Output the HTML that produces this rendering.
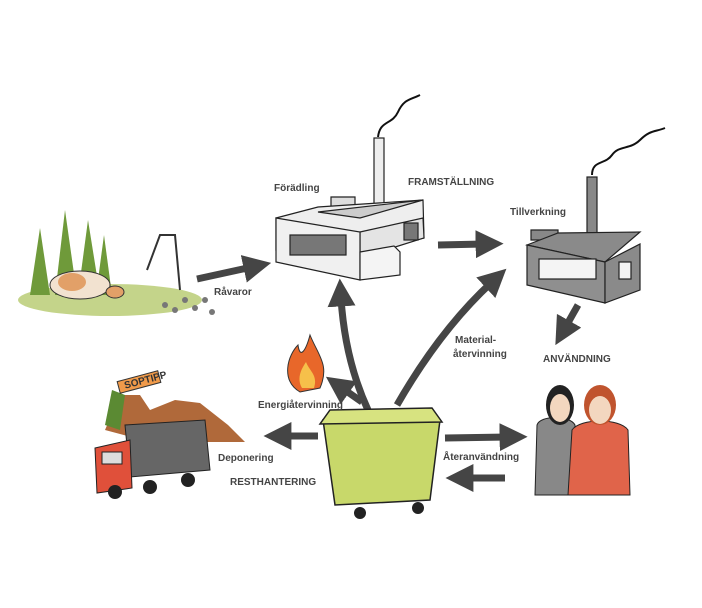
<!DOCTYPE html>
<html><head><meta charset="utf-8"><style>
body{margin:0;background:#fff}
svg{display:block}
text{font-family:"Liberation Sans",sans-serif;font-weight:bold;font-size:10px;fill:#444}
</style></head><body>
<svg width="702" height="608" viewBox="0 0 702 608" xmlns="http://www.w3.org/2000/svg">
<defs>
<marker id="a" markerWidth="4" markerHeight="4" refX="1.2" refY="2" orient="auto" markerUnits="strokeWidth">
<path d="M0,0 L4,2 L0,4 z" fill="#454545"/></marker>
</defs>
<g stroke="#454545" stroke-width="7" fill="none" marker-end="url(#a)">
<line x1="197" y1="279" x2="252" y2="267"/>
<line x1="438" y1="245" x2="484" y2="244"/>
<line x1="578" y1="305" x2="565" y2="328"/>
<path d="M368,410 Q345,360 341,298"/>
<path d="M397,405 Q440,330 492,282"/>
<line x1="362" y1="402" x2="342" y2="388"/>
<line x1="318" y1="436" x2="283" y2="436"/>
<line x1="445" y1="438" x2="508" y2="437"/>
<line x1="505" y1="478" x2="465" y2="478"/>
</g>
<!-- smoke -->
<path d="M378,137 C380,120 392,125 398,112 S410,100 420,95" stroke="#111" stroke-width="2" fill="none"/>
<path d="M592,175 C592,160 605,165 612,155 S630,150 640,140 S655,132 665,128" stroke="#111" stroke-width="2" fill="none"/>
<!-- factory 1 -->
<g stroke="#222" stroke-width="1.2">
<rect x="374" y="138" width="10" height="75" fill="#eee"/>
<path d="M331,197 h24 v12 h-24z" fill="#ddd"/>
<polygon points="276,218 318,207 423,200 424,238 360,252 276,250" fill="#eee"/>
<polygon points="360,232 423,218 424,238 360,258" fill="#e4e4e4"/>
<polygon points="276,218 360,232 360,280 276,262" fill="#f0f0f0"/>
<polygon points="318,212 423,200 360,218 318,212" fill="#ccc"/>
<rect x="290" y="235" width="56" height="20" fill="#777"/>
<polygon points="360,252 394,246 400,252 400,275 360,280" fill="#f4f4f4"/>
<rect x="404" y="223" width="14" height="17" fill="#777"/>
<!-- factory 2 -->
<rect x="587" y="177" width="10" height="60" fill="#888"/>
<path d="M531,230 h27 v10 h-27z" fill="#888"/>
<polygon points="527,245 558,233 640,232 605,262" fill="#8a8a8a"/>
<polygon points="527,245 605,262 605,303 527,285" fill="#8f8f8f"/>
<polygon points="605,262 640,244 640,290 605,303" fill="#8a8a8a"/>
<rect x="539" y="259" width="57" height="20" fill="#f4f4f4"/>
<rect x="619" y="262" width="12" height="17" fill="#f4f4f4"/>
</g>
<!-- left scene -->
<ellipse cx="110" cy="300" rx="92" ry="16" fill="#c4d48a"/>
<g fill="#6f9a3a">
<polygon points="30,295 40,228 50,295"/><polygon points="55,295 65,210 77,295"/>
<polygon points="78,295 88,220 100,295"/><polygon points="96,295 104,235 112,295"/>
</g>
<ellipse cx="80" cy="285" rx="30" ry="14" fill="#f2e2d0" stroke="#333"/>
<ellipse cx="72" cy="282" rx="14" ry="9" fill="#e2a068"/>
<ellipse cx="115" cy="292" rx="9" ry="6" fill="#e2a068" stroke="#333"/>
<path d="M147,270 L160,235 L175,235 L180,290" stroke="#333" stroke-width="2" fill="none"/>
<g fill="#777"><circle cx="165" cy="305" r="3"/><circle cx="175" cy="310" r="3"/><circle cx="185" cy="300" r="3"/><circle cx="195" cy="308" r="3"/><circle cx="205" cy="300" r="3"/><circle cx="212" cy="312" r="3"/></g>
<!-- fire -->
<path d="M300,392 C280,380 288,355 298,345 C300,360 306,350 310,335 C318,355 330,365 320,388z" fill="#e8672a" stroke="#333"/>
<path d="M302,388 C296,378 302,368 306,362 C310,372 318,375 314,388z" fill="#f6c04a"/>
<!-- landfill / truck -->
<polygon points="105,430 120,395 140,395 150,410 175,400 200,403 228,425 245,442 150,442" fill="#b0693a"/>
<path d="M105,425 L112,390 L125,395 L120,430z" fill="#5b8a33"/>
<rect x="118" y="376" width="42" height="12" fill="#f09a4a" stroke="#333" transform="rotate(-15 139 382)"/>
<text x="124" y="385" font-size="6" transform="rotate(-15 139 382)" style="fill:#333">SOPTIPP</text>
<polygon points="125,425 205,420 210,470 130,477" fill="#666" stroke="#222"/>
<polygon points="95,448 130,440 132,488 97,493" fill="#e0503a" stroke="#222"/>
<rect x="102" y="452" width="20" height="12" fill="#ddd" stroke="#222"/>
<circle cx="115" cy="492" r="7" fill="#222"/><circle cx="150" cy="487" r="7" fill="#222"/><circle cx="188" cy="480" r="7" fill="#222"/>
<!-- bin -->
<polygon points="323,420 440,420 430,500 335,505" fill="#c8d86a" stroke="#222" stroke-width="1.5"/>
<polygon points="330,410 432,408 442,422 320,424" fill="#d7e380" stroke="#222" stroke-width="1.5"/>
<circle cx="360" cy="513" r="6" fill="#222"/><circle cx="418" cy="508" r="6" fill="#222"/>
<!-- people -->
<path d="M535,495 L537,425 C540,415 570,415 575,425 L575,495z" fill="#888" stroke="#222"/>
<path d="M568,495 L572,430 C580,418 620,418 628,430 L630,495z" fill="#e0644a" stroke="#222"/>
<ellipse cx="560" cy="405" rx="14" ry="20" fill="#222"/><ellipse cx="560" cy="408" rx="10" ry="14" fill="#f3d7bf"/>
<ellipse cx="600" cy="405" rx="16" ry="20" fill="#c0542e"/><ellipse cx="600" cy="410" rx="11" ry="14" fill="#f3d7bf"/>
<!-- labels -->
<text x="274" y="191">Förädling</text>
<text x="408" y="185">FRAMSTÄLLNING</text>
<text x="510" y="215">Tillverkning</text>
<text x="214" y="295">Råvaror</text>
<text x="455" y="343">Material-</text>
<text x="453" y="357">återvinning</text>
<text x="543" y="362">ANVÄNDNING</text>
<text x="258" y="408">Energiåtervinning</text>
<text x="218" y="461">Deponering</text>
<text x="443" y="460">Återanvändning</text>
<text x="230" y="485">RESTHANTERING</text>
</svg>
</body></html>
